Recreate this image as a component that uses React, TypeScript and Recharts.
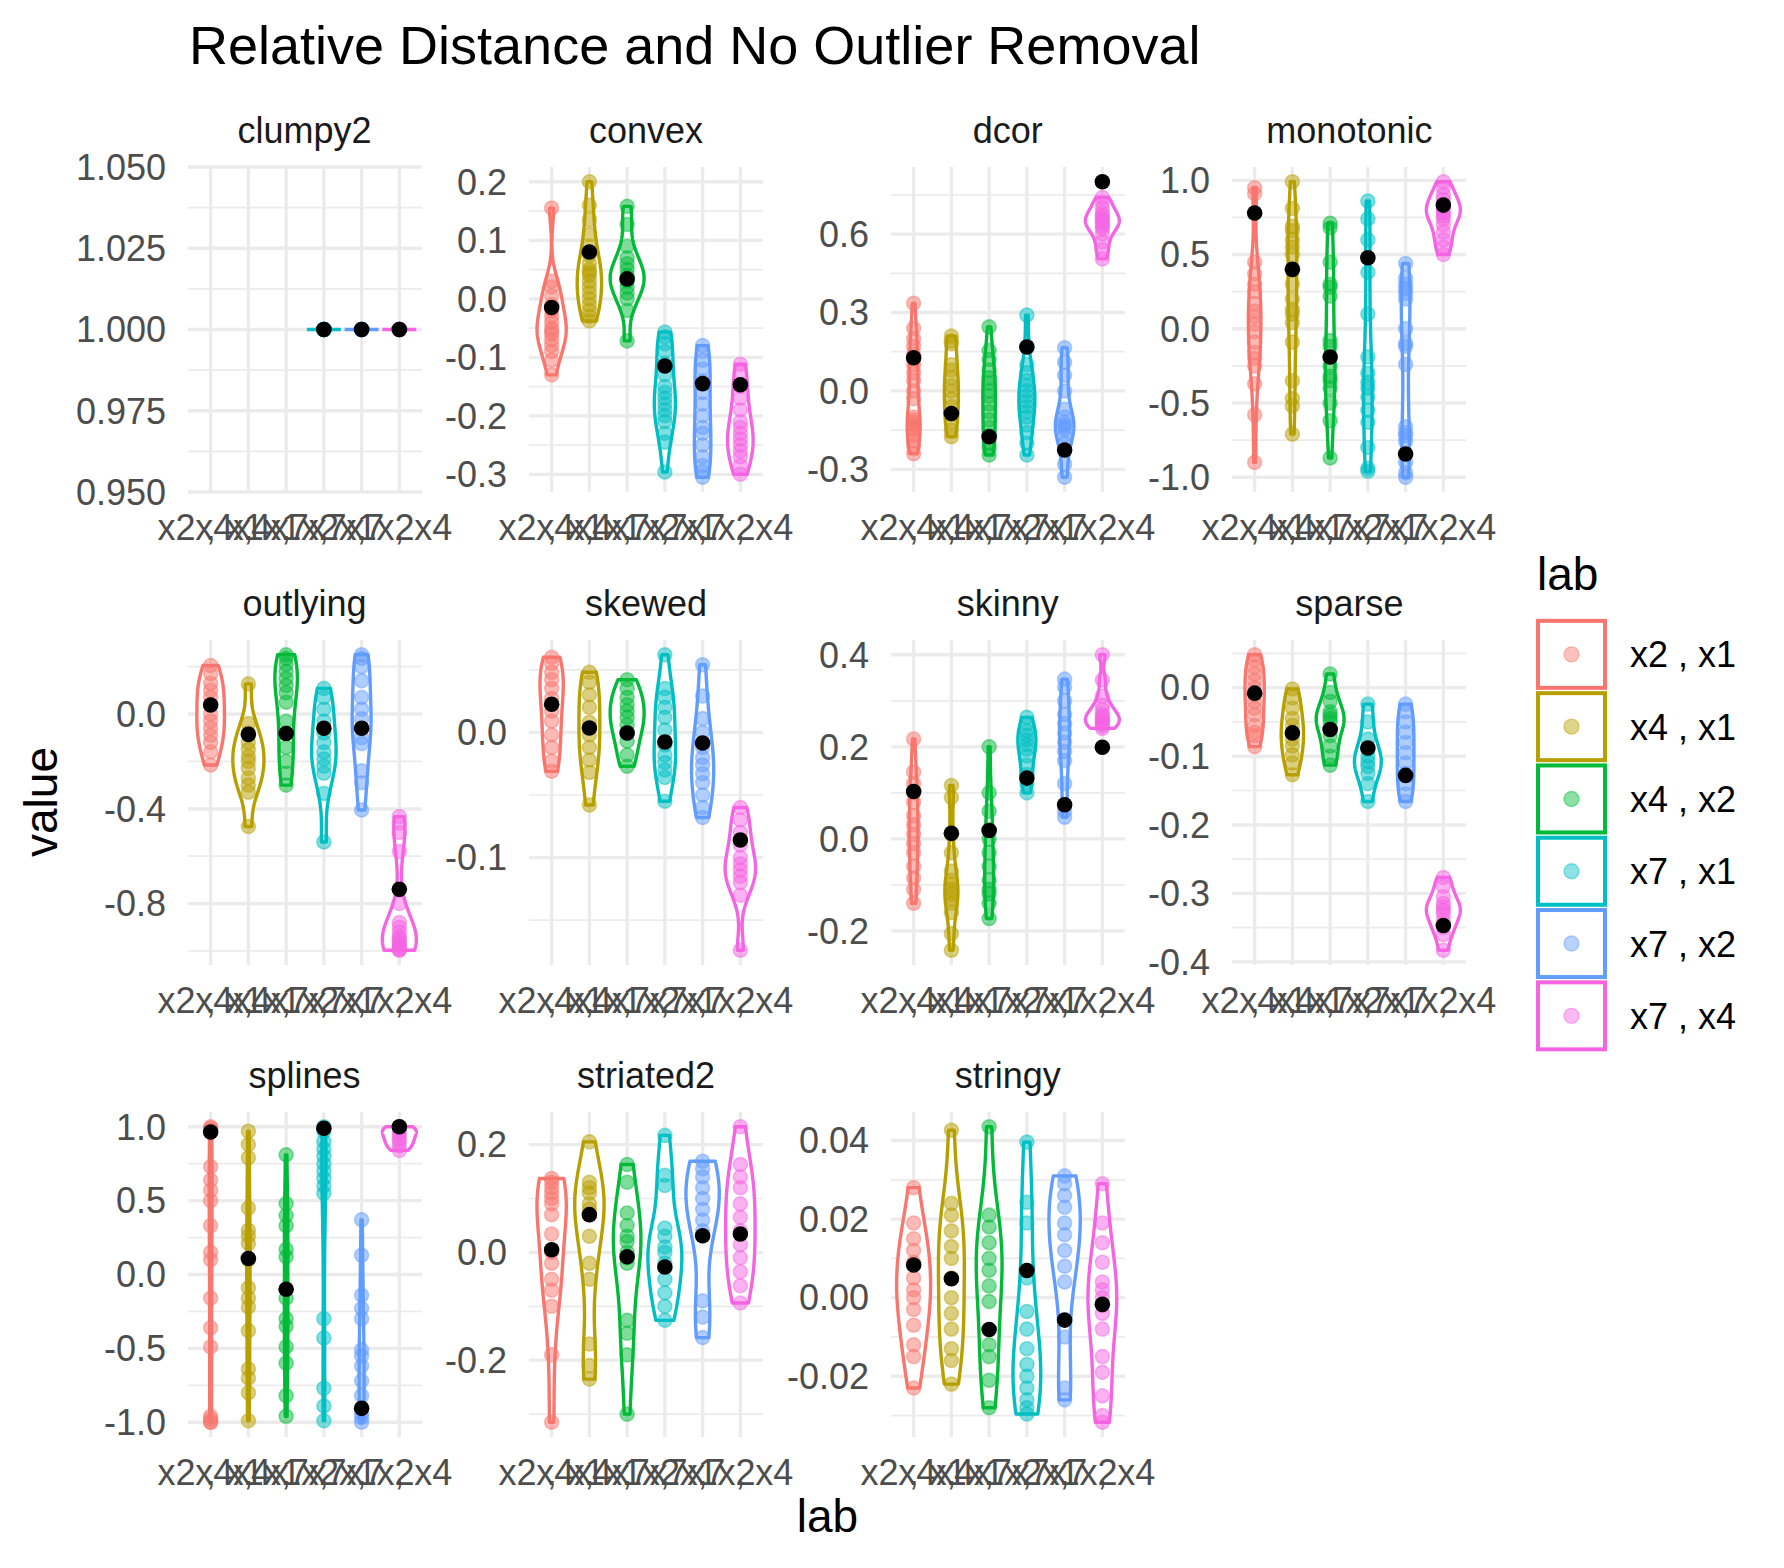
import React from "react";
import { ComposedChart, Scatter, XAxis, YAxis, CartesianGrid } from "recharts";

const LABS = ["x2 , x1", "x4 , x1", "x4 , x2", "x7 , x1", "x7 , x2", "x7 , x4"];
const COLORS = ["#F8766D", "#B79F00", "#00BA38", "#00BFC4", "#619CFF", "#F564E3"];
const FACETS = ["clumpy2", "convex", "dcor", "monotonic", "outlying", "skewed", "skinny", "sparse", "splines", "striated2", "stringy"];

const clumpy2 = [
  [], [], [],
  [1, 1, 1, 1, 1, 1, 1, 1, 1, 1],
  [1, 1, 1, 1, 1, 1, 1, 1, 1, 1],
  [1, 1, 1, 1, 1, 1, 1, 1, 1, 1],
];
const clumpy2Mean = [null, null, null, 1, 1, 1];
const clumpy2Ticks = [0.95, 0.975, 1.0, 1.025, 1.05];

const convex = [
  [0.155, 0.03, 0.02, 0.005, -0.01, -0.02, -0.03, -0.04, -0.05, -0.055, -0.06, -0.07, -0.08, -0.09, -0.105, -0.13],
  [0.2, 0.16, 0.135, 0.11, 0.09, 0.075, 0.06, 0.05, 0.045, 0.04, 0.03, 0.02, 0.01, 0.0, -0.01, -0.02, -0.03, -0.038],
  [0.158, 0.127, 0.09, 0.07, 0.06, 0.05, 0.04, 0.035, 0.03, 0.02, 0.01, 0.0, -0.02, -0.072],
  [-0.057, -0.065, -0.077, -0.09, -0.11, -0.13, -0.15, -0.16, -0.17, -0.18, -0.19, -0.2, -0.21, -0.23, -0.245, -0.296],
  [-0.08, -0.09, -0.105, -0.12, -0.14, -0.16, -0.18, -0.2, -0.22, -0.23, -0.25, -0.27, -0.285, -0.295, -0.305],
  [-0.112, -0.125, -0.15, -0.17, -0.19, -0.21, -0.22, -0.23, -0.24, -0.25, -0.26, -0.27, -0.285, -0.3],
];
const convexMean = [-0.015, 0.08, 0.034, -0.115, -0.145, -0.147];
const convexTicks = [-0.3, -0.2, -0.1, 0.0, 0.1, 0.2];

const dcor = [
  [0.335, 0.24, 0.2, 0.17, 0.14, 0.1, 0.07, 0.04, 0.0, -0.03, -0.1, -0.11, -0.12, -0.13, -0.14, -0.15, -0.17, -0.19, -0.21, -0.24],
  [0.21, 0.19, 0.18, 0.1, 0.08, 0.05, 0.02, 0.0, -0.03, -0.06, -0.09, -0.12, -0.15, -0.175],
  [0.245, 0.155, 0.12, 0.08, 0.05, 0.03, 0.0, -0.02, -0.05, -0.08, -0.11, -0.14, -0.17, -0.2, -0.22, -0.245],
  [0.29, 0.17, 0.1, 0.07, 0.04, 0.02, 0.0, -0.02, -0.04, -0.06, -0.08, -0.1, -0.13, -0.16, -0.2, -0.245],
  [0.165, 0.11, 0.06, 0.0, -0.07, -0.1, -0.12, -0.13, -0.14, -0.15, -0.17, -0.2, -0.28, -0.33],
  [0.74, 0.72, 0.7, 0.68, 0.67, 0.66, 0.65, 0.64, 0.63, 0.62, 0.6, 0.57, 0.54, 0.505],
];
const dcorMean = [0.127, -0.086, -0.175, 0.168, -0.226, 0.8];
const dcorTicks = [-0.3, 0.0, 0.3, 0.6];

const monotonic = [
  [0.95, 0.91, 0.45, 0.37, 0.3, 0.25, 0.17, 0.12, 0.08, 0.03, -0.02, -0.09, -0.16, -0.2, -0.25, -0.37, -0.58, -0.9],
  [0.99, 0.81, 0.69, 0.66, 0.6, 0.55, 0.5, 0.3, 0.2, 0.13, 0.1, 0.04, -0.09, -0.35, -0.47, -0.52, -0.71],
  [0.71, 0.68, 0.45, 0.3, 0.28, 0.22, -0.08, -0.12, -0.25, -0.32, -0.35, -0.4, -0.5, -0.62, -0.87],
  [0.86, 0.74, 0.6, 0.38, 0.1, -0.19, -0.3, -0.36, -0.4, -0.46, -0.55, -0.63, -0.8, -0.94, -0.96],
  [0.44, 0.34, 0.3, 0.27, 0.24, 0.2, 0.0, -0.1, -0.12, -0.24, -0.66, -0.7, -0.72, -0.76, -0.9, -0.97, -1.0],
  [0.99, 0.95, 0.9, 0.87, 0.84, 0.82, 0.8, 0.78, 0.76, 0.74, 0.7, 0.65, 0.6, 0.55, 0.5],
];
const monotonicMean = [0.78, 0.4, -0.19, 0.478, -0.844, 0.833];
const monotonicTicks = [-1.0, -0.5, 0.0, 0.5, 1.0];

const outlying = [
  [0.205, 0.17, 0.13, 0.1, 0.07, 0.04, 0.0, -0.03, -0.06, -0.09, -0.12, -0.16, -0.215],
  [0.127, -0.04, -0.08, -0.12, -0.15, -0.18, -0.2, -0.23, -0.27, -0.3, -0.33, -0.475],
  [0.25, 0.235, 0.21, 0.18, 0.15, 0.12, 0.09, 0.05, -0.03, -0.08, -0.14, -0.2, -0.25, -0.3],
  [0.108, 0.07, 0.02, -0.03, -0.08, -0.12, -0.16, -0.19, -0.22, -0.25, -0.335, -0.54],
  [0.25, 0.235, 0.2, 0.14, 0.07, 0.02, -0.02, -0.06, -0.1, -0.125, -0.24, -0.29, -0.405],
  [-0.433, -0.46, -0.5, -0.58, -0.8, -0.88, -0.9, -0.92, -0.94, -0.95, -0.96, -0.97, -0.98, -0.99, -0.995, -0.997],
];
const outlyingMean = [0.038, -0.086, -0.082, -0.06, -0.06, -0.74];
const outlyingTicks = [-0.8, -0.4, 0.0];

const skewed = [
  [0.06, 0.055, 0.048, 0.042, 0.035, 0.027, 0.017, 0.009, -0.002, -0.012, -0.023, -0.031],
  [0.048, 0.04, 0.03, 0.02, 0.008, -0.002, -0.012, -0.022, -0.032, -0.058],
  [0.042, 0.035, 0.028, 0.022, 0.017, 0.012, 0.006, 0.0, -0.007, -0.018, -0.027],
  [0.062, 0.035, 0.028, 0.02, 0.012, 0.002, -0.01, -0.018, -0.024, -0.03, -0.036, -0.055],
  [0.054, 0.029, 0.011, 0.0, -0.012, -0.02, -0.026, -0.033, -0.04, -0.05, -0.06, -0.068],
  [-0.06, -0.07, -0.08, -0.09, -0.1, -0.105, -0.11, -0.115, -0.12, -0.13, -0.174],
];
const skewedMean = [0.0225, 0.0035, -0.0005, -0.0077, -0.0085, -0.086];
const skewedTicks = [-0.1, 0.0];

const skinny = [
  [0.217, 0.145, 0.12, 0.1, 0.08, 0.05, 0.03, 0.01, -0.01, -0.03, -0.06, -0.085, -0.11, -0.14],
  [0.116, 0.09, 0.01, -0.03, -0.07, -0.09, -0.1, -0.11, -0.12, -0.13, -0.14, -0.16, -0.206, -0.242],
  [0.2, 0.1, 0.06, 0.02, 0.0, -0.03, -0.06, -0.09, -0.11, -0.12, -0.14, -0.173],
  [0.264, 0.25, 0.235, 0.225, 0.215, 0.205, 0.195, 0.18, 0.16, 0.14, 0.12, 0.1],
  [0.347, 0.33, 0.3, 0.27, 0.25, 0.23, 0.21, 0.19, 0.17, 0.12, 0.06, 0.047],
  [0.4, 0.345, 0.31, 0.29, 0.28, 0.27, 0.265, 0.26, 0.255, 0.25, 0.245, 0.24],
];
const skinnyMean = [0.103, 0.012, 0.018, 0.132, 0.074, 0.199];
const skinnyTicks = [-0.2, 0.0, 0.2, 0.4];

const sparse = [
  [0.048, 0.04, 0.03, 0.02, 0.01, 0.0, -0.01, -0.02, -0.03, -0.04, -0.055, -0.065, -0.07, -0.086],
  [-0.002, -0.015, -0.03, -0.045, -0.055, -0.065, -0.075, -0.085, -0.098, -0.11, -0.127],
  [0.02, -0.007, -0.02, -0.035, -0.04, -0.045, -0.05, -0.06, -0.07, -0.085, -0.1, -0.113],
  [-0.024, -0.05, -0.075, -0.09, -0.1, -0.108, -0.115, -0.125, -0.14, -0.166],
  [-0.024, -0.035, -0.05, -0.065, -0.08, -0.095, -0.11, -0.125, -0.14, -0.155, -0.166],
  [-0.277, -0.29, -0.305, -0.315, -0.32, -0.325, -0.33, -0.34, -0.35, -0.36, -0.383],
];
const sparseMean = [-0.008, -0.066, -0.061, -0.088, -0.128, -0.347];
const sparseTicks = [-0.4, -0.3, -0.2, -0.1, 0.0];

const splines = [
  [1.0, 0.99, 0.98, 0.73, 0.64, 0.57, 0.5, 0.33, 0.15, 0.1, -0.16, -0.36, -0.49, -0.96, -0.98, -1.0, -1.0],
  [0.97, 0.88, 0.79, 0.45, 0.3, 0.26, 0.21, 0.1, -0.09, -0.16, -0.22, -0.38, -0.64, -0.7, -0.8, -0.99],
  [0.81, 0.48, 0.4, 0.33, 0.17, 0.12, -0.16, -0.3, -0.35, -0.49, -0.6, -0.82, -0.96],
  [1.0, 0.97, 0.9, 0.85, 0.8, 0.75, 0.7, 0.65, 0.6, 0.55, -0.3, -0.43, -0.77, -0.89, -0.99],
  [0.37, 0.13, -0.14, -0.23, -0.3, -0.51, -0.55, -0.62, -0.72, -0.82, -0.94, -0.97, -1.0],
  [1.0, 0.99, 0.97, 0.95, 0.92, 0.9, 0.87, 0.84],
];
const splinesMean = [0.965, 0.108, -0.1, 0.99, -0.906, 1.0];
const splinesTicks = [-1.0, -0.5, 0.0, 0.5, 1.0];

const striated2 = [
  [0.137, 0.13, 0.12, 0.11, 0.1, 0.09, 0.07, 0.034, 0.0, -0.02, -0.05, -0.07, -0.1, -0.19, -0.315],
  [0.205, 0.13, 0.12, 0.11, 0.09, 0.08, 0.07, 0.03, -0.02, -0.05, -0.17, -0.21, -0.235],
  [0.163, 0.13, 0.073, 0.05, 0.03, 0.02, 0.0, -0.01, -0.02, -0.126, -0.15, -0.19, -0.3],
  [0.217, 0.143, 0.124, 0.045, 0.03, 0.01, 0.0, -0.02, -0.05, -0.075, -0.1, -0.126],
  [0.169, 0.155, 0.14, 0.12, 0.1, 0.08, 0.06, 0.04, -0.09, -0.12, -0.158],
  [0.233, 0.163, 0.14, 0.12, 0.09, 0.065, 0.04, 0.014, -0.01, -0.036, -0.062, -0.094],
];
const striated2Mean = [0.005, 0.07, -0.008, -0.027, 0.031, 0.034];
const striated2Ticks = [-0.2, 0.0, 0.2];

const stringy = [
  [0.028, 0.019, 0.015, 0.012, 0.009, 0.005, 0.002, 0.0, -0.003, -0.007, -0.012, -0.015, -0.023],
  [0.0426, 0.024, 0.021, 0.017, 0.013, 0.01, 0.005, 0.0, -0.004, -0.008, -0.013, -0.016, -0.022],
  [0.0435, 0.021, 0.018, 0.014, 0.01, 0.007, 0.003, -0.001, -0.012, -0.015, -0.021, -0.028],
  [0.0396, 0.0243, 0.019, 0.005, -0.0035, -0.008, -0.013, -0.017, -0.02, -0.023, -0.026, -0.028, -0.0296],
  [0.031, 0.029, 0.026, 0.023, 0.019, 0.016, 0.012, 0.008, 0.004, -0.01, -0.023, -0.026],
  [0.029, 0.019, 0.014, 0.009, 0.004, 0.002, 0.0, -0.002, -0.004, -0.008, -0.015, -0.019, -0.025, -0.03, -0.0317],
];
const stringyMean = [0.0083, 0.0048, -0.0081, 0.0069, -0.0057, -0.0017];
const stringyTicks = [-0.02, 0.0, 0.02, 0.04];

const PANEL_VALUES = [clumpy2, convex, dcor, monotonic, outlying, skewed, skinny, sparse, splines, striated2, stringy];
const PANEL_MEANS = [clumpy2Mean, convexMean, dcorMean, monotonicMean, outlyingMean, skewedMean, skinnyMean, sparseMean, splinesMean, striated2Mean, stringyMean];
const PANEL_TICKS = [clumpy2Ticks, convexTicks, dcorTicks, monotonicTicks, outlyingTicks, skewedTicks, skinnyTicks, sparseTicks, splinesTicks, striated2Ticks, stringyTicks];
const PANEL_DIGITS = [3, 1, 1, 1, 1, 1, 1, 1, 1, 1, 2];
const X_TICKS = [1, 2, 3, 4, 5, 6];

const FONT = '"Liberation Sans", Arial, Helvetica, sans-serif';
const COL_LEFT = [187.5, 529, 890.7, 1232.4];
const ROW_TOP = [166.7, 639.5, 1112.3];
const PANEL_W = 234;
const PANEL_H = 325;
const AXIS_W = 130;
const XAXIS_H = 80;
const TOP_PAD = 30;
const RIGHT_PAD = 70;
const GRID = "#EBEBEB";

function bwNrd0(x: number[]) {
  const n = x.length;
  const s = [...x].sort((a, b) => a - b);
  const mean = x.reduce((a, b) => a + b, 0) / n;
  const sd = n > 1 ? Math.sqrt(x.reduce((a, b) => a + (b - mean) ** 2, 0) / (n - 1)) : 0;
  const q = (p: number) => {
    const h = (n - 1) * p;
    const lo = Math.floor(h);
    const hi = Math.min(lo + 1, n - 1);
    return s[lo] + (h - lo) * (s[hi] - s[lo]);
  };
  const iqr = q(0.75) - q(0.25);
  let lo = Math.min(sd, iqr / 1.34);
  if (!(lo > 0)) lo = sd || Math.abs(s[0]) || 1;
  return 0.9 * lo * Math.pow(n, -0.2);
}

const NGRID = 80;

function densities(vals: number[]) {
  if (vals.length === 0) return null;
  const mn = Math.min(...vals);
  const mx = Math.max(...vals);
  if (mx - mn < 1e-12) return { ys: [mn], ds: [Infinity], flat: true };
  const bw = bwNrd0(vals);
  const ys: number[] = [];
  const ds: number[] = [];
  for (let j = 0; j <= NGRID; j++) {
    const y = mn + ((mx - mn) * j) / NGRID;
    let d = 0;
    for (const v of vals) {
      const z = (y - v) / bw;
      d += Math.exp(-0.5 * z * z);
    }
    d /= vals.length * bw * Math.sqrt(2 * Math.PI);
    ys.push(y);
    ds.push(d);
  }
  return { ys, ds, flat: false };
}

function violinOutlines(groups: number[][]) {
  const dens = groups.map(densities);
  let maxD = 0;
  dens.forEach((d) => {
    if (d && !d.flat) d.ds.forEach((v) => (maxD = Math.max(maxD, v)));
  });
  return dens.map((d, i) => {
    const cx = i + 1;
    if (!d) return [];
    if (d.flat || maxD === 0) {
      return [
        { x: cx - 0.45, y: d.ys[0] },
        { x: cx + 0.45, y: d.ys[0] },
      ];
    }
    const right = d.ys.map((y, j) => ({ x: cx + (0.45 * d.ds[j]) / maxD, y }));
    const left = d.ys.map((y, j) => ({ x: cx - (0.45 * d.ds[j]) / maxD, y })).reverse();
    return [...right, ...left];
  });
}

function ViolinShape(props: any) {
  const pts = props.points || [];
  if (!pts.length) return <g />;
  const d = pts.map((p: any, j: number) => `${j ? "L" : "M"}${p.x},${p.y}`).join("") + (pts.length > 2 ? "Z" : "");
  return <path d={d} fill="#FFFFFF" stroke={props.color} strokeWidth={3.4} strokeLinejoin="round" />;
}

const Empty = () => <g />;

const makeDot = (color: string) => (p: any) => (
  <circle cx={p.cx} cy={p.cy} r={7} fill={color} fillOpacity={0.5} stroke={color} strokeOpacity={0.45} strokeWidth={1.6} />
);
const MeanDot = (p: any) => <circle cx={p.cx} cy={p.cy} r={7.8} fill="#000000" />;

function Panel({ k }: { k: number }) {
  const values = PANEL_VALUES[k];
  const means = PANEL_MEANS[k];
  const ticks = PANEL_TICKS[k];
  const digits = PANEL_DIGITS[k];
  const row = Math.floor(k / 4);
  const col = k % 4;

  const all = values.flat().concat(means.filter((m) => m !== null) as number[]);
  const lo = Math.min(...all);
  const hi = Math.max(...all);
  let domain: [number, number];
  if (hi - lo < 1e-12) domain = [lo - 0.05 * Math.abs(lo), hi + 0.05 * Math.abs(hi)];
  else domain = [lo - (hi - lo) * 0.05, hi + (hi - lo) * 0.05];

  const step = ticks[1] - ticks[0];
  const minors: number[] = [];
  for (let j = -3; j < ticks.length + 3; j++) {
    const t = ticks[0] + step * j + step / 2;
    if (t >= domain[0] && t <= domain[1]) minors.push(+t.toFixed(6));
  }

  const outlines = violinOutlines(values);

  return (
    <div style={{ position: "absolute", left: COL_LEFT[col] - AXIS_W, top: ROW_TOP[row] - TOP_PAD }}>
      <ComposedChart
        width={AXIS_W + PANEL_W + RIGHT_PAD}
        height={TOP_PAD + PANEL_H + XAXIS_H}
        margin={{ top: TOP_PAD, right: RIGHT_PAD, bottom: 0, left: 0 }}
      >
        <CartesianGrid horizontalValues={minors} vertical={false} stroke={GRID} strokeWidth={1.7} />
        <CartesianGrid horizontalValues={ticks} verticalValues={X_TICKS} stroke={GRID} strokeWidth={3.3} />
        <XAxis
          type="number"
          dataKey="x"
          domain={[0.4, 6.6]}
          ticks={X_TICKS}
          interval={0}
          allowDataOverflow
          tickFormatter={(v: number) => LABS[Math.round(v) - 1]}
          tickLine={false}
          axisLine={false}
          tickSize={0}
          tickMargin={22}
          height={XAXIS_H}
          tick={{ fontSize: 36, fill: "#4D4D4D", fontFamily: FONT }}
        />
        <YAxis
          type="number"
          dataKey="y"
          domain={domain}
          ticks={ticks}
          interval={0}
          allowDataOverflow
          tickFormatter={(v: number) => v.toFixed(digits)}
          tickLine={false}
          axisLine={false}
          tickSize={0}
          tickMargin={22}
          width={AXIS_W}
          tick={{ fontSize: 36, fill: "#4D4D4D", fontFamily: FONT }}
        />
        {outlines.map((o, i) =>
          o.length ? (
            <Scatter
              key={`v${i}`}
              data={o}
              fill={COLORS[i]}
              line={<ViolinShape color={COLORS[i]} />}
              lineType="joint"
              shape={Empty}
              isAnimationActive={false}
            />
          ) : null
        )}
        {values.map((vals, i) =>
          vals.length ? (
            <Scatter
              key={`p${i}`}
              data={vals.map((v) => ({ x: i + 1, y: v }))}
              fill={COLORS[i]}
              shape={makeDot(COLORS[i])}
              isAnimationActive={false}
            />
          ) : null
        )}
        <Scatter
          data={means.map((m, i) => (m === null ? null : { x: i + 1, y: m })).filter(Boolean) as any[]}
          fill="#000000"
          shape={MeanDot}
          isAnimationActive={false}
        />
      </ComposedChart>
    </div>
  );
}

export default function App() {
  const keyTop = 618.2;
  const keyPitch = 72.3;
  return (
    <div style={{ position: "absolute", left: 0, top: 0, width: 1784, height: 1568, background: "#FFFFFF", overflow: "hidden" }}>
      <svg width={1784} height={1568} style={{ position: "absolute", left: 0, top: 0 }} fontFamily={FONT}>
        <text x={189} y={63.6} fontSize={54} fill="#000000">
          Relative Distance and No Outlier Removal
        </text>
        {FACETS.map((f, k) => (
          <text
            key={f}
            x={COL_LEFT[k % 4] + PANEL_W / 2}
            y={ROW_TOP[Math.floor(k / 4)] - 24}
            fontSize={36}
            fill="#1A1A1A"
            textAnchor="middle"
          >
            {f}
          </text>
        ))}
        <text x={57} y={802} fontSize={46} fill="#000000" textAnchor="middle" transform="rotate(-90 57 802)">
          value
        </text>
        <text x={827.4} y={1532} fontSize={46} fill="#000000" textAnchor="middle">
          lab
        </text>
        <text x={1537} y={590} fontSize={46} fill="#000000">
          lab
        </text>
        {LABS.map((lab, i) => {
          const cy = keyTop + keyPitch * i + keyPitch / 2;
          return (
            <g key={lab}>
              <rect x={1538} y={cy - 33.5} width={67} height={67} fill="#FFFFFF" stroke={COLORS[i]} strokeWidth={4} />
              <circle cx={1571.5} cy={cy} r={7.5} fill={COLORS[i]} fillOpacity={0.45} stroke={COLORS[i]} strokeOpacity={0.45} strokeWidth={1.4} />
              <text x={1630} y={cy + 13} fontSize={36} fill="#000000">
                {lab}
              </text>
            </g>
          );
        })}
      </svg>
      {FACETS.map((f, k) => (
        <Panel key={f} k={k} />
      ))}
    </div>
  );
}
